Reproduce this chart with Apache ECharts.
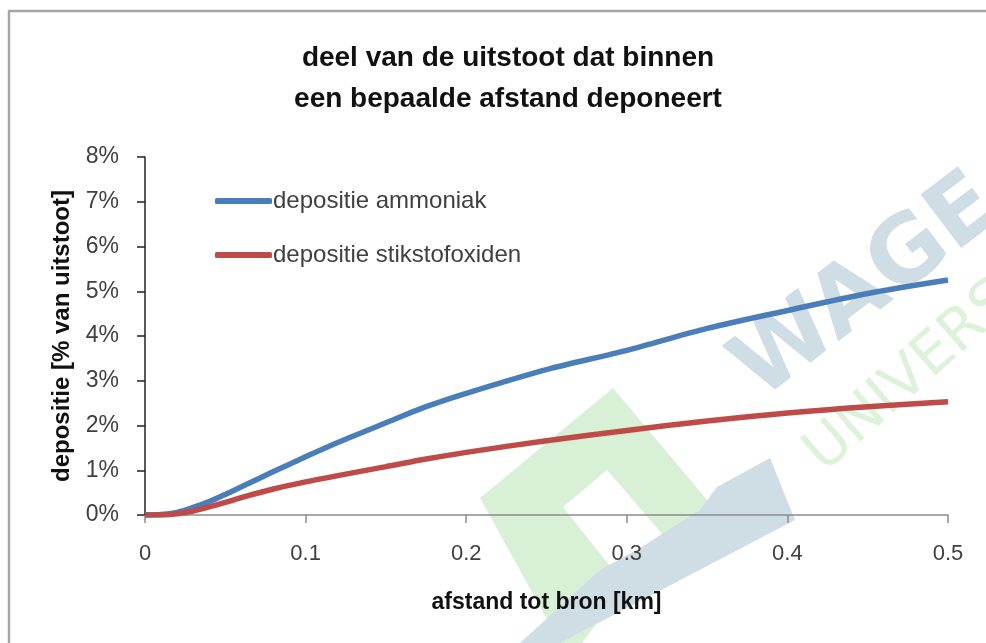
<!DOCTYPE html>
<html>
<head>
<meta charset="utf-8">
<script src="https://cdn.jsdelivr.net/npm/echarts@6/dist/echarts.min.js"></script>
<style>
  html, body { margin: 0; padding: 0; background: #fff; }
  #chart { width: 986px; height: 643px; }
</style>
</head>
<body>
<div id="chart"></div>
<script>
// afstand tot bron [km]
const distances = [0, 0.01, 0.02, 0.03, 0.04, 0.05, 0.06, 0.08, 0.10, 0.12, 0.15, 0.175, 0.20, 0.25, 0.30, 0.35, 0.40, 0.45, 0.50];
// depositie [% van uitstoot]
const ammoniak = [0, 0.01, 0.06, 0.17, 0.30, 0.46, 0.63, 0.97, 1.30, 1.62, 2.06, 2.42, 2.72, 3.25, 3.68, 4.17, 4.57, 4.95, 5.25];
const stikstofoxiden = [0, 0, 0.03, 0.09, 0.18, 0.28, 0.39, 0.58, 0.74, 0.88, 1.08, 1.25, 1.40, 1.66, 1.89, 2.10, 2.28, 2.42, 2.53];
const seriesNames = ['depositie ammoniak', 'depositie stikstofoxiden'];
const titleLines = ['deel van de uitstoot dat binnen', 'een bepaalde afstand deponeert'];

const font = "'Liberation Sans', sans-serif";
const toPairs = vals => distances.map((d, i) => [d, vals[i]]);

const chart = echarts.init(document.getElementById('chart'));
const option = {
    animation: false,
    textStyle: { fontFamily: font },
    title: {
        text: titleLines.join('\n'),
        left: 503,
        textAlign: 'center',
        top: 33,
        textStyle: { fontFamily: font, fontSize: 28, fontWeight: 'bold', color: '#111', lineHeight: 41 }
    },
    grid: { left: 145, right: 38, top: 157, bottom: 128 },
    legend: {
        orient: 'vertical',
        left: 210,
        top: 184,
        itemWidth: 57,
        itemHeight: 6,
        itemGap: 30,
        icon: 'roundRect',
        textStyle: { fontFamily: font, fontSize: 24, color: '#404040', padding: [0, 0, 0, -4] },
        data: seriesNames
    },
    xAxis: {
        type: 'value',
        min: 0,
        max: 0.5,
        interval: 0.1,
        name: 'afstand tot bron [km]',
        nameLocation: 'middle',
        nameGap: 76,
        nameTextStyle: { fontFamily: font, fontSize: 23, fontWeight: 'bold', color: '#111' },
        axisLine: { lineStyle: { color: '#8c8c8c', width: 1.5 } },
        axisTick: { show: true, length: 8, lineStyle: { color: '#8c8c8c', width: 1.5 } },
        axisLabel: {
            margin: 28,
            fontSize: 22,
            color: '#404040',
            formatter: v => (v === 0 ? '0' : v.toFixed(1))
        },
        splitLine: { show: false }
    },
    yAxis: {
        type: 'value',
        min: 0,
        max: 8,
        interval: 1,
        name: 'depositie [% van uitstoot]',
        nameLocation: 'middle',
        nameGap: 70,
        nameTextStyle: { fontFamily: font, fontSize: 24, fontWeight: 'bold', color: '#111' },
        axisLine: { show: true, lineStyle: { color: '#222', width: 1.5 } },
        axisTick: { show: true, length: 8, lineStyle: { color: '#222', width: 1.5 } },
        axisLabel: { margin: 26, fontSize: 23, color: '#404040', formatter: '{value}%' },
        splitLine: { show: false }
    },
    graphic: [
        {
            type: 'rect', z: -10, silent: true,
            shape: { x: 9, y: 11, width: 1100, height: 800 },
            style: { fill: 'none', stroke: '#a6a6a6', lineWidth: 2.5 }
        },
        // watermark
        {
            type: 'polygon', z: -5, silent: true,
            shape: { points: [[480, 498], [613, 388], [713, 507], [670, 543], [607, 470], [563, 507], [625, 585], [582, 643], [560, 643]] },
            style: { fill: '#d8f0d6' }
        },
        {
            type: 'polygon', z: -5, silent: true,
            shape: { points: [[717, 487], [770, 458], [795, 520], [560, 643], [520, 643], [600, 570], [640, 548], [700, 510]] },
            style: { fill: '#cfdde5' }
        },
        {
            type: 'text', z: -5, silent: true, x: 718, y: 345, rotation: 0.65,
            style: { text: 'WAGE', font: 'bold 92px "DejaVu Sans"', fill: '#cfdde5', letterSpacing: 8 }
        },
        {
            type: 'text', z: -5, silent: true, x: 795, y: 440, rotation: 0.72,
            style: { text: 'UNIVERS', font: '58px "DejaVu Sans"', fill: '#dcf3da', letterSpacing: 6 }
        }
    ],
    series: [
        {
            name: seriesNames[0],
            type: 'line',
            data: toPairs(ammoniak),
            smooth: 0.3,
            showSymbol: false,
            color: '#4a7ebb',
            lineStyle: { width: 5.5, color: '#4a7ebb' }
        },
        {
            name: seriesNames[1],
            type: 'line',
            data: toPairs(stikstofoxiden),
            smooth: 0.3,
            showSymbol: false,
            color: '#be4b48',
            lineStyle: { width: 5.5, color: '#be4b48' }
        }
    ]
};
chart.setOption(option);
</script>
</body>
</html>
